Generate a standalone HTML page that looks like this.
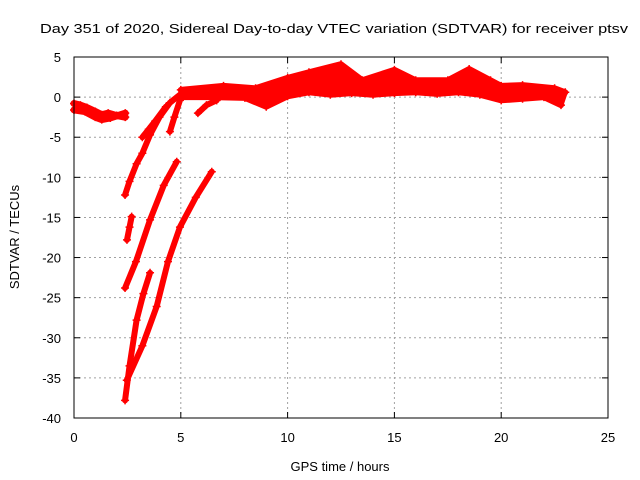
<!DOCTYPE html>
<html><head><meta charset="utf-8"><style>
body{margin:0;background:#fff}
svg{display:block;font-family:"Liberation Sans",sans-serif}
</style></head><body>
<svg id="chart" width="640" height="480" viewBox="0 0 640 480">
<rect width="640" height="480" fill="#fff"/>
<text x="40" y="33" font-size="13" textLength="588" lengthAdjust="spacingAndGlyphs">Day 351 of 2020, Sidereal Day-to-day VTEC variation (SDTVAR) for receiver ptsv</text>
<g id="grid"></g>
<g id="series"></g>
<rect x="74" y="57" width="534" height="361" fill="none" stroke="#000" stroke-width="1"/>
<g id="ticks"></g>
<text x="340" y="471" font-size="13" text-anchor="middle">GPS time / hours</text>
<text transform="translate(19,237) rotate(-90)" font-size="13" text-anchor="middle">SDTVAR / TECUs</text>
</svg>
<script>
const xTicks=[0,5,10,15,20,25];
const yTicks=[5,0,-5,-10,-15,-20,-25,-30,-35,-40];
const trackEarly=[[0,-0.8],[0.3,-1.0],[0.6,-1.3],[1,-1.8],[1.3,-2.2],[1.6,-2.0],[2,-2.3],[2.4,-2.5]];
const trackEarly2=[[0,-1.6],[0.5,-1.8],[1,-2.5],[1.3,-2.8],[1.7,-2.6],[2.4,-2.0]];
const trackMain=[[2.39,-12.2],[2.6,-10.5],[2.93,-8.3],[3.2,-7.0],[3.56,-4.7],[4.0,-2.5],[4.49,-0.7],[4.96,0.3],[5.5,0.4],[6.5,0.2],[7.5,0.6],[8,0.3]];
const trackMain2=[[3.2,-5.0],[3.5,-4.0],[3.8,-3.0],[4.3,-1.2]];
const trackC=[[4.49,-4.3],[4.7,-2.5],[4.96,-0.4]];
const trackD=[[2.48,-17.8],[2.6,-16.2],[2.7,-14.9]];
const trackE=[[2.39,-23.8],[2.9,-20.5],[3.56,-15.3],[4.2,-11.0],[4.81,-8.05]];
const trackF=[[2.39,-37.8],[2.6,-33.5],[2.93,-27.8],[3.25,-24.5],[3.56,-21.9]];
const trackG=[[2.47,-35.3],[3.2,-31.0],[3.87,-26.1],[4.4,-20.5],[4.96,-16.2],[5.7,-12.5],[6.45,-9.3]];
const trackH=[[5.8,-2.0],[6.2,-1.0],[6.68,-0.4]];
const bandUpper=[[5,0.9],[7,1.4],[8.5,1.1],[10,2.4],[11,3.1],[12.5,4.1],[13.5,2.1],[15,3.4],[16,2.1],[17.5,2.1],[18.5,3.5],[19.5,2.1],[20,1.4],[21,1.5],[22.5,1.1],[23,0.6]];
const bandLower=[[5,0],[6.5,0],[8,-0.1],[9,-1.2],[10,0.1],[11,0.6],[12,0.3],[13,0.5],[14,0.3],[15,0.5],[16,0.6],[17,0.4],[18,0.6],[19,0.3],[20,-0.4],[21,-0.2],[22,0],[22.8,-1.0]];
const tracks=[trackEarly,trackEarly2,trackMain,trackMain2,trackC,trackD,trackE,trackF,trackG,trackH,bandUpper,bandLower];
const NS="http://www.w3.org/2000/svg";
const X=v=>74+v/25*534, Y=v=>57+(5-v)/45*361;
const grid=document.getElementById('grid'),ticks=document.getElementById('ticks'),ser=document.getElementById('series');
function mk(tag,attrs,parent){const e=document.createElementNS(NS,tag);for(const k in attrs)e.setAttribute(k,attrs[k]);parent.appendChild(e);return e;}
xTicks.forEach(t=>{
 const x=X(t);
 if(t>0&&t<25){const g=mk('line',{x1:x,x2:x,y1:57,y2:418,stroke:'#a0a0a0','stroke-dasharray':'2,3'},grid);
 
 }
 mk('line',{x1:x,x2:x,y1:418,y2:412,stroke:'#000'},ticks);
 mk('line',{x1:x,x2:x,y1:57,y2:63,stroke:'#000'},ticks);
 const l=mk('text',{x:x,y:442,'font-size':13,'text-anchor':'middle'},ticks);l.textContent=t;
 
 
});
yTicks.forEach(t=>{
 const y=Y(t);
 if(t<5&&t>-40){const g=mk('line',{x1:74,x2:608,y1:y,y2:y,stroke:'#a0a0a0','stroke-dasharray':'2,3'},grid);
 
 }
 mk('line',{x1:74,x2:80,y1:y,y2:y,stroke:'#000'},ticks);
 mk('line',{x1:608,x2:602,y1:y,y2:y,stroke:'#000'},ticks);
 const l=mk('text',{x:61,y:y+5,'font-size':13,'text-anchor':'end'},ticks);l.textContent=t;
 
 
});
const band=mk('polygon',{points:bandUpper.concat(bandLower.slice().reverse()).map(d=>X(d[0])+','+Y(d[1])).join(' '),fill:'#ff0000',stroke:'#ff0000','stroke-width':5,'stroke-linejoin':'round'},ser);


tracks.forEach((tr,i)=>{
 const p=mk('polyline',{points:tr.map(d=>X(d[0])+','+Y(d[1])).join(' '),fill:'none',stroke:'#ff0000','stroke-width':i<2?7:6,'stroke-linejoin':'round','stroke-linecap':'round'},ser);
 
 
 tr.forEach(d=>{
  const m=mk('path',{d:`M${X(d[0])-4},${Y(d[1])}h8M${X(d[0])},${Y(d[1])-4}v8`,stroke:'#ff0000','stroke-width':1.5},ser);
  
  
 });
});
</script>
</body></html>
